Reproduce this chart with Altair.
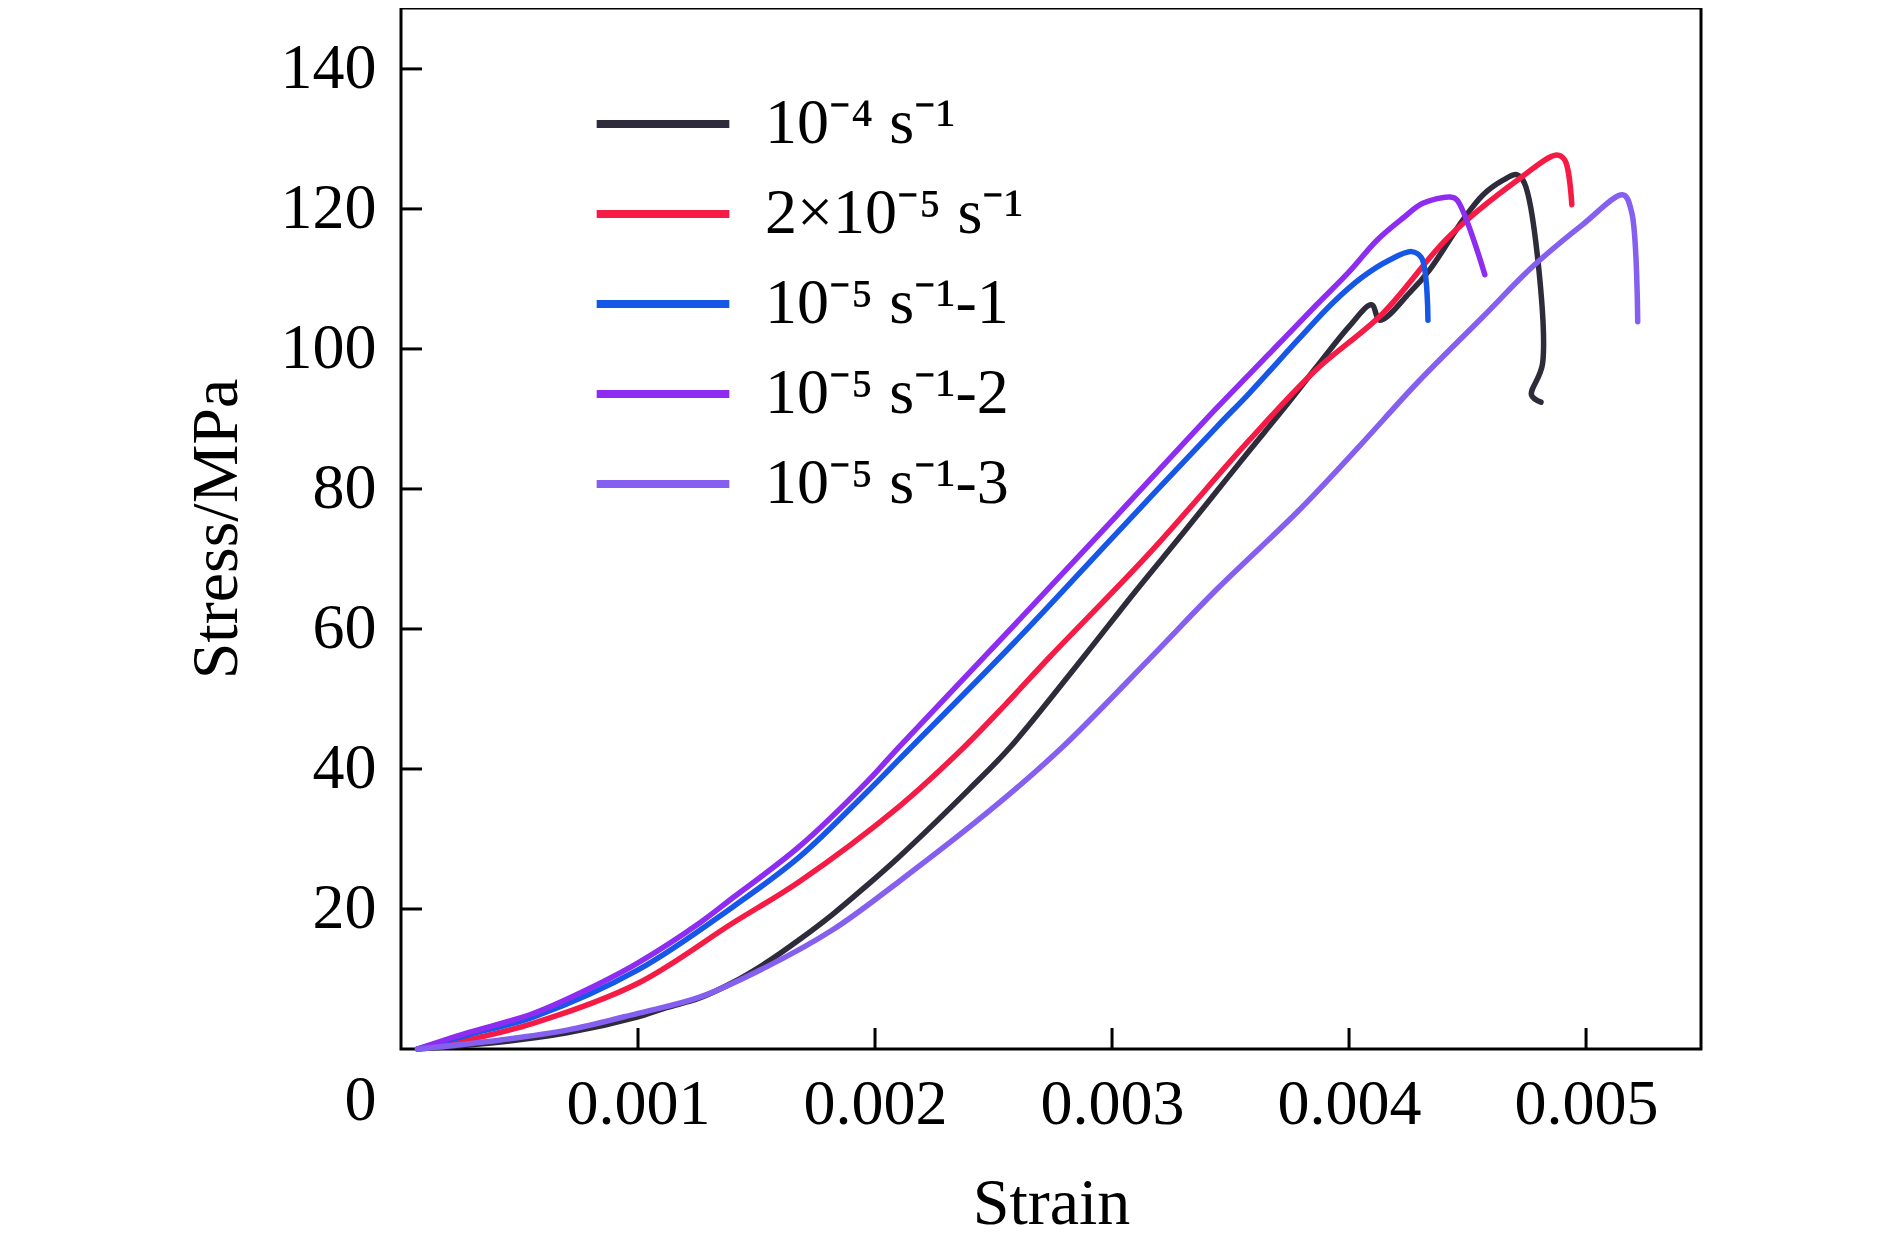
import altair as alt
import pandas as pd

# ---- data ----
series_names = ["10⁻⁴ s⁻¹", "2×10⁻⁵ s⁻¹", "10⁻⁵ s⁻¹-1", "10⁻⁵ s⁻¹-2", "10⁻⁵ s⁻¹-3"]
series_colors = ["#2e2c3b", "#f51b45", "#1657e8", "#8e2df1", "#855ff0"]

strain_a = [0.00007, 0.00042, 0.0007, 0.0010, 0.00112, 0.00126, 0.0014, 0.00154, 0.00168, 0.00182,
            0.00196, 0.0021, 0.0024, 0.00257, 0.00288, 0.00309, 0.0033, 0.00344, 0.00358, 0.00372,
            0.00386, 0.0040, 0.004095, 0.00413, 0.004255, 0.00434, 0.00448, 0.004565, 0.00465,
            0.004707, 0.00474, 0.004817, 0.00477, 0.00481]
stress_a = [0.0, 1.0, 2.3, 4.6, 5.9, 7.3, 9.5, 12.3, 15.6, 19.2,
            23.2, 27.4, 37.2, 43.1, 56.0, 65.0, 73.7, 79.6, 85.5, 91.3,
            97.3, 103.2, 106.3, 104.1, 108.0, 111.3, 118.4, 122.0, 124.1,
            124.9, 123.7, 98.0, 93.4, 92.4]

strain_b = [0.00007, 0.00028, 0.00056, 0.0010, 0.0014, 0.00168, 0.0021, 0.00236, 0.00255, 0.00274,
            0.00316, 0.00358, 0.00386, 0.00414, 0.00442, 0.00471, 0.004876, 0.00491, 0.00494]
stress_b = [0.0, 1.3, 3.7, 9.4, 18.0, 23.9, 34.6, 42.6, 49.2, 56.1,
            70.9, 87.0, 97.0, 105.0, 116.0, 124.1, 127.7, 127.0, 120.6]

strain_c = [0.00007, 0.00028, 0.00056, 0.0010, 0.0014, 0.00168, 0.00196, 0.0021, 0.0026, 0.00302,
            0.00344, 0.00358, 0.00379, 0.003932, 0.004058, 0.004171, 0.004264, 0.004306, 0.004333]
stress_c = [0.0, 2.0, 4.6, 11.3, 20.3, 27.4, 36.5, 41.3, 58.5, 73.7,
            88.8, 93.7, 101.5, 106.6, 110.3, 112.7, 113.9, 113.0, 104.1]

strain_d = [0.00007, 0.00028, 0.00056, 0.00084, 0.0010, 0.00126, 0.0014, 0.00168, 0.00197, 0.0021,
            0.0026, 0.00302, 0.00344, 0.00358, 0.00372, 0.00386, 0.0040, 0.004117, 0.004228,
            0.004311, 0.004426, 0.004455, 0.004573]
stress_d = [0.0, 2.3, 5.1, 9.4, 12.3, 18.0, 21.6, 28.9, 38.3, 43.1,
            61.0, 76.2, 91.5, 96.4, 101.3, 106.2, 111.0, 115.5, 118.7,
            120.8, 121.7, 121.3, 110.6]

strain_e = [0.00007, 0.00042, 0.0007, 0.0010, 0.00126, 0.00154, 0.00182, 0.0021, 0.0025, 0.00279,
            0.00316, 0.00344, 0.00379, 0.004046, 0.004286, 0.004565, 0.004776, 0.004987, 0.005157,
            0.005192, 0.005218]
stress_e = [0.0, 1.3, 2.7, 5.1, 7.4, 11.7, 17.0, 23.9, 34.5, 43.1,
            55.8, 65.6, 77.0, 86.2, 95.1, 104.6, 111.8, 117.8, 122.0,
            119.6, 103.9]

x_tick_values = [0.001, 0.002, 0.003, 0.004, 0.005]
y_tick_values = [20, 40, 60, 80, 100, 120, 140]
y_label_values = [0, 20, 40, 60, 80, 100, 120, 140]

# ---- build table ----
rows = []
for name, xs, ys in zip(series_names,
                        [strain_a, strain_b, strain_c, strain_d, strain_e],
                        [stress_a, stress_b, stress_c, stress_d, stress_e]):
    for i, (sx, sy) in enumerate(zip(xs, ys)):
        rows.append({"series": name, "strain": sx, "stress": sy, "i": i})
df = pd.DataFrame(rows)

W, H = 1300, 1041
FONT = "Liberation Serif"

x_scale = alt.Scale(domain=[0, 0.005485], nice=False, zero=False)
y_scale = alt.Scale(domain=[0, 148.7], nice=False, zero=False)

lines = alt.Chart(df).mark_line(strokeWidth=5.5, strokeCap="round", strokeJoin="round",
                                interpolate="catmull-rom").encode(
    x=alt.X("strain:Q", scale=x_scale,
            axis=alt.Axis(title="Strain", values=x_tick_values, format=".3f",
                          ticks=False, tickSize=0, domain=False, grid=False,
                          labelFont=FONT, labelFontSize=64, labelColor="black",
                          labelPadding=23, labelFlush=False, labelOverlap=False,
                          titleFont=FONT, titleFontSize=66, titleFontWeight="normal",
                          titleColor="black", titlePadding=35)),
    y=alt.Y("stress:Q", scale=y_scale,
            axis=alt.Axis(title="Stress/MPa", values=y_label_values,
                          ticks=False, tickSize=0, domain=False, grid=False,
                          labelFont=FONT, labelFontSize=64, labelColor="black",
                          labelPadding=25, labelFlush=False, labelOverlap=False,
                          labelOffset={"condition": {"test": "datum.value === 0", "value": 51}, "value": 0},
                          titleFont=FONT, titleFontSize=66, titleFontWeight="normal",
                          titleColor="black", titlePadding=30)),
    color=alt.Color("series:N",
                    scale=alt.Scale(domain=series_names, range=series_colors),
                    legend=alt.Legend(orient="none", legendX=230, legendY=84, title=None,
                                      symbolType="M-4,0H4", symbolSize=1100,
                                      symbolStrokeWidth=8, labelFont=FONT,
                                      labelFontSize=64, labelColor="black",
                                      labelOffset=70, rowPadding=26, labelLimit=0,
                                      padding=0)),
    order="i:Q",
    detail="series:N",
)

ytick_df = pd.DataFrame({"stress": y_tick_values})
yticks = alt.Chart(ytick_df).mark_rule(color="black", strokeWidth=3).encode(
    y=alt.Y("stress:Q", scale=y_scale),
    x=alt.value(0), x2=alt.value(21),
)

xtick_df = pd.DataFrame({"strain": x_tick_values})
xticks = alt.Chart(xtick_df).mark_rule(color="black", strokeWidth=3).encode(
    x=alt.X("strain:Q", scale=x_scale),
    y=alt.value(H), y2=alt.value(H - 21),
)

chart = alt.layer(lines, yticks, xticks).properties(
    width=W, height=H,
    autosize=alt.AutoSizeParams(type="none"),
    padding={"left": 393, "top": 0, "right": 170, "bottom": 190},
    background="white",
).configure_view(stroke="black", strokeWidth=3)

chart.save("out.html", embed_options={"renderer": "svg", "actions": False})
